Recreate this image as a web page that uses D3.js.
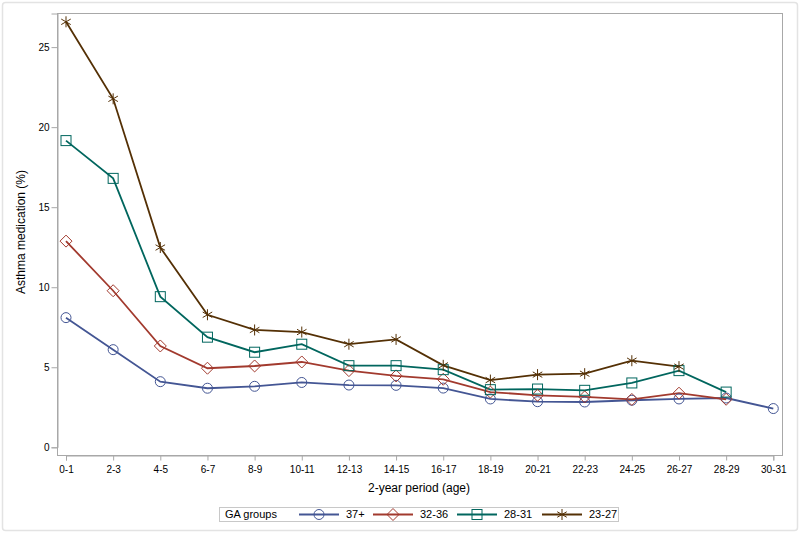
<!DOCTYPE html>
<html><head><meta charset="utf-8">
<script src="https://cdn.jsdelivr.net/npm/d3@7"></script>
<style>body{margin:0;background:#fff;} svg{display:block;font-family:"Liberation Sans",Arial,sans-serif;}</style>
</head><body><svg id="c" width="800" height="534"></svg>
<script>
const categories = ["0-1","2-3","4-5","6-7","8-9","10-11","12-13","14-15","16-17","18-19","20-21","22-23","24-25","26-27","28-29","30-31"];
const ga37 = [8.1,6.1,4.1,3.69,3.81,4.05,3.89,3.87,3.7,3.02,2.85,2.83,2.94,3.02,3.08,2.42];
const ga3236 = [12.88,9.78,6.33,4.94,5.08,5.33,4.79,4.46,4.25,3.45,3.25,3.15,2.99,3.38,3.0,null];
const ga2831 = [19.16,16.8,9.41,6.88,5.94,6.44,5.1,5.1,4.85,3.6,3.64,3.56,4.02,4.79,3.45,null];
const ga2327 = [26.58,21.77,12.48,8.28,7.33,7.2,6.44,6.74,5.12,4.2,4.54,4.6,5.41,5.04,null,null];
const yTicks = [0,5,10,15,20,25];
const seriesNames = ["37+","32-36","28-31","23-27"];
const colors = ["#445694","#A23A2E","#01665E","#543005"];
const markers = ["circle","diamond","square","star"];
const seriesVals = [ga37, ga3236, ga2831, ga2327];

const svg = d3.select("#c");
svg.append("rect").attr("x",2.5).attr("y",2.5).attr("width",795).attr("height",528).attr("rx",3)
  .attr("fill","#fff").attr("stroke","#e3e3e3").attr("stroke-width",1.5);

const L=57.5, R=782.5, T=13.5, B=455.5;
const x = d3.scalePoint().domain(categories).range([66,773.3]);
const y = d3.scaleLinear().domain([0,27.1]).range([447.3,13.5]);

svg.append("rect").attr("x",L).attr("y",T).attr("width",R-L).attr("height",B-T)
  .attr("fill","none").attr("stroke","#a8a8a8").attr("stroke-width",1);

const xa = svg.append("g").attr("transform",`translate(0,${B})`)
  .call(d3.axisBottom(x).tickSize(5).tickPadding(5.5));
const ya = svg.append("g").attr("transform",`translate(${L},0)`)
  .call(d3.axisLeft(y).tickValues(yTicks).tickSize(6).tickPadding(2));
[xa,ya].forEach(a=>{
  a.select(".domain").attr("stroke","#a8a8a8");
  a.selectAll(".tick line").attr("stroke","#a8a8a8");
  a.selectAll(".tick text").attr("fill","#000").attr("font-size","10px").attr("font-family","Liberation Sans, Arial, sans-serif");
});

svg.append("text").attr("x",419).attr("y",492).attr("text-anchor","middle").attr("font-size","12px").text("2-year period (age)");
svg.append("text").attr("transform","translate(25,232) rotate(-90)").attr("text-anchor","middle").attr("font-size","12px").text("Asthma medication (%)");

function drawMarker(g, type, cx, cy, col){
  if(type==="circle") g.append("circle").attr("cx",cx).attr("cy",cy).attr("r",5).attr("fill","none").attr("stroke",col).attr("stroke-width",1);
  else if(type==="square") g.append("rect").attr("x",cx-5).attr("y",cy-5).attr("width",10).attr("height",10).attr("fill","none").attr("stroke",col).attr("stroke-width",1);
  else if(type==="diamond") g.append("path").attr("d",`M${cx},${cy-6}L${cx+6},${cy}L${cx},${cy+6}L${cx-6},${cy}Z`).attr("fill","none").attr("stroke",col).attr("stroke-width",1);
  else {
    const r=5.5, dx=r*Math.cos(Math.PI/6), dy=r*Math.sin(Math.PI/6);
    g.append("path").attr("d",`M${cx},${cy-r}L${cx},${cy+r}M${cx-dx},${cy-dy}L${cx+dx},${cy+dy}M${cx-dx},${cy+dy}L${cx+dx},${cy-dy}`)
      .attr("fill","none").attr("stroke",col).attr("stroke-width",1);
  }
}

seriesVals.forEach((vals,i)=>{
  const pts = categories.map((c,j)=>({c,v:vals[j]})).filter(d=>d.v!=null);
  const line = d3.line().x(d=>x(d.c)).y(d=>y(d.v));
  svg.append("path").datum(pts).attr("d",line).attr("fill","none").attr("stroke",colors[i]).attr("stroke-width",1.8);
});
seriesVals.forEach((vals,i)=>{
  const g = svg.append("g");
  categories.forEach((c,j)=>{ if(vals[j]!=null) drawMarker(g, markers[i], x(c), y(vals[j]), colors[i]); });
});

// legend
const lg = svg.append("g");
lg.append("rect").attr("x",219.5).attr("y",507.5).attr("width",399).attr("height",14).attr("fill","#fff").attr("stroke","#c8c8c8");
lg.append("text").attr("x",225).attr("y",518).attr("font-size","11px").text("GA groups");
const legPos = [299,373,457,542];
seriesNames.forEach((n,i)=>{
  const x0=legPos[i];
  lg.append("line").attr("x1",x0).attr("x2",x0+40).attr("y1",514.5).attr("y2",514.5).attr("stroke",colors[i]).attr("stroke-width",1.8);
  drawMarker(lg, markers[i], x0+20, 514.5, colors[i]);
  lg.append("text").attr("x",x0+47).attr("y",518).attr("font-size","11px").text(n);
});
</script></body></html>
